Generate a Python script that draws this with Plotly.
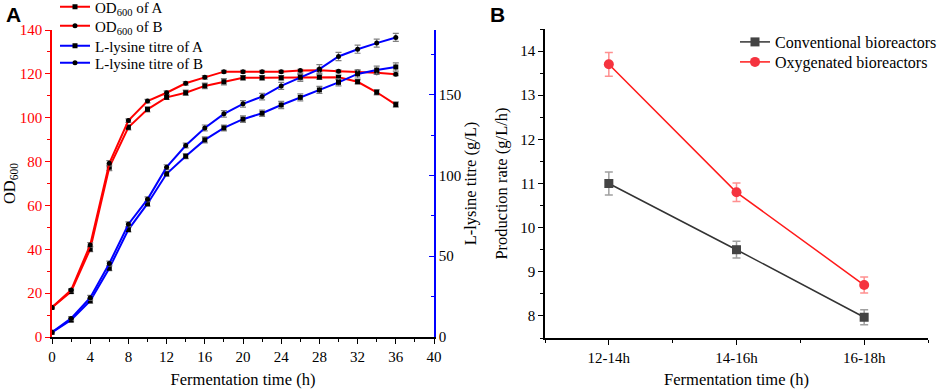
import plotly.graph_objects as go

# ---------------- data: panel A ----------------
time_h = [0, 2, 4, 6, 8, 10, 12, 14, 16, 18, 20, 22, 24, 26, 28, 30, 32, 34, 36]
od_A = [13.5, 20.7, 40.1, 77.4, 95.6, 103.8, 109.3, 111.4, 114.5, 116.4, 118.2, 118.2, 118.2, 118.5, 118.5, 118.4, 116.4, 111.6, 106.0]
od_A_err = [0.5, 0.8, 1.2, 1.5, 1.2, 1.2, 1.0, 1.2, 1.3, 1.4, 1.0, 1.0, 1.0, 1.2, 1.0, 1.0, 1.0, 1.2, 1.2]
od_B = [13.5, 21.4, 42.0, 79.2, 98.7, 107.6, 111.4, 115.7, 118.4, 121.0, 121.0, 121.0, 121.0, 121.5, 121.7, 121.2, 121.0, 120.5, 119.8]
od_B_err = [0.4, 0.7, 1.0, 1.2, 0.8, 0.8, 0.8, 0.8, 0.8, 0.6, 0.6, 0.6, 0.6, 0.6, 0.8, 0.6, 0.6, 0.6, 0.6]
titre_A = [2.9, 10.5, 22.4, 42.6, 66.5, 82.5, 101.0, 111.9, 122.0, 129.4, 134.8, 138.5, 143.6, 148.3, 152.9, 157.6, 162.8, 165.2, 167.1]
titre_A_err = [0.8, 1.2, 1.5, 1.5, 1.5, 1.5, 1.5, 1.5, 1.8, 1.8, 2.0, 2.0, 2.2, 2.2, 2.2, 2.2, 2.5, 2.5, 2.5]
titre_B = [2.9, 11.5, 24.3, 45.5, 69.8, 85.2, 105.1, 118.5, 129.4, 138.1, 144.3, 148.8, 155.4, 160.7, 165.8, 173.6, 178.1, 181.9, 185.4]
titre_B_err = [0.8, 1.2, 1.5, 1.5, 1.5, 1.5, 1.5, 1.5, 1.8, 2.0, 2.0, 2.0, 2.2, 2.5, 2.8, 2.5, 2.5, 2.5, 2.5]

# ---------------- data: panel B ----------------
periods = ["12-14h", "14-16h", "16-18h"]
conventional = [11.0, 9.5, 7.97]
conventional_err = [0.26, 0.19, 0.17]
oxygenated = [13.7, 10.8, 8.7]
oxygenated_err = [0.27, 0.21, 0.18]
period_pos = list(range(len(periods)))

W, H = 941, 389
SERIF = "Liberation Serif"
RED = "#ff0000"
BLUE = "#0000ff"

def px_x(p):
    return p / W

def px_y(p):
    return 1 - p / H

fig = go.Figure()

def add_a(y, err, name, color, symbol, yaxis, legend):
    fig.add_trace(go.Scatter(
        x=time_h, y=y, name=name, mode="lines+markers", showlegend=True,
        line=dict(color=color, width=2),
        marker=dict(symbol=symbol, size=5, color="black"),
        error_y=dict(type="data", array=err, color="#808080", thickness=1.2, width=3),
        xaxis="x", yaxis=yaxis, legend=legend,
    ))

add_a(od_A, od_A_err, "OD<sub>600</sub> of A", RED, "square", "y", "legend")
add_a(od_B, od_B_err, "OD<sub>600</sub> of B", RED, "circle", "y", "legend2")
add_a(titre_A, titre_A_err, "L-lysine titre of A", BLUE, "square", "y2", "legend3")
add_a(titre_B, titre_B_err, "L-lysine titre of B", BLUE, "circle", "y2", "legend4")

fig.add_trace(go.Scatter(
    x=period_pos, y=conventional, name="Conventional bioreactors", mode="lines+markers",
    line=dict(color="#333333", width=1.5),
    marker=dict(symbol="square", size=9, color="#444444"),
    error_y=dict(type="data", array=conventional_err, color="#a0a0a0", thickness=1.5, width=4),
    xaxis="x3", yaxis="y3", legend="legend5",
))
fig.add_trace(go.Scatter(
    x=period_pos, y=oxygenated, name="Oxygenated bioreactors", mode="lines+markers",
    line=dict(color="#ff1a1a", width=1.5),
    marker=dict(symbol="circle", size=10, color="#f5333f"),
    error_y=dict(type="data", array=oxygenated_err, color="#ff9090", thickness=1.5, width=4),
    xaxis="x3", yaxis="y3", legend="legend6",
))

tickfont = dict(family=SERIF, size=15, color="black")
titlefont = dict(family=SERIF, size=16.5, color="black")

def leg(xp, yp, size):
    return dict(
        x=px_x(xp), y=px_y(yp), xanchor="left", yanchor="middle",
        bgcolor="rgba(0,0,0,0)", borderwidth=0,
        font=dict(family=SERIF, size=size, color="black"),
    )

fig.update_layout(
    width=W, height=H,
    showlegend=True,
    margin=dict(l=0, r=0, t=0, b=0, autoexpand=False),
    paper_bgcolor="white", plot_bgcolor="white",
    font=dict(family=SERIF, size=15, color="black"),
    xaxis=dict(
        domain=[px_x(52), px_x(434)], range=[0, 40], anchor="y",
        tickvals=[0, 4, 8, 12, 16, 20, 24, 28, 32, 36, 40],
        ticks="outside", ticklen=5, tickwidth=1.2, tickcolor="black",
        minor=dict(dtick=2, ticks="outside", ticklen=3, tickcolor="black"),
        showline=True, linecolor="black", linewidth=1.5, automargin=False,
        showgrid=False, zeroline=False, tickfont=tickfont,
        title=dict(text="Fermentation time (h)", font=titlefont, standoff=13),
    ),
    yaxis=dict(
        domain=[px_y(337), px_y(30)], range=[0, 140], anchor="x",
        dtick=20, ticks="outside", ticklen=5, tickwidth=1.2, tickcolor=RED,
        minor=dict(dtick=10, ticks="outside", ticklen=3, tickcolor=RED),
        showline=True, linecolor=RED, linewidth=1.5, automargin=False,
        showgrid=False, zeroline=False,
        tickfont=dict(family=SERIF, size=15, color=RED),
        title=dict(text="OD<sub>600</sub>", font=titlefont, standoff=8),
    ),
    yaxis2=dict(
        overlaying="y", side="right", anchor="x", range=[0, 190],
        tickvals=[0, 50, 100, 150],
        ticks="inside", ticklen=5, tickwidth=1.2, tickcolor=BLUE,
        minor=dict(dtick=25, ticks="inside", ticklen=3, tickcolor=BLUE),
        showline=True, linecolor=BLUE, linewidth=1.5, automargin=False,
        showgrid=False, zeroline=False, tickfont=tickfont,
        title=dict(text="L-lysine titre (g/L)", font=titlefont, standoff=4),
    ),
    xaxis3=dict(
        domain=[px_x(545), px_x(928)], range=[-0.5, 2.5], anchor="y3",
        tickvals=period_pos, ticktext=periods,
        ticks="outside", ticklen=5, tickwidth=1.2, tickcolor="black",
        minor=dict(dtick=0.5, tick0=-0.5, ticks="outside", ticklen=3, tickcolor="black"),
        showline=True, linecolor="black", linewidth=1.5, automargin=False,
        showgrid=False, zeroline=False, tickfont=tickfont,
        title=dict(text="Fermentation time (h)", font=titlefont, standoff=12),
    ),
    yaxis3=dict(
        domain=[px_y(338), px_y(29)], range=[7.5, 14.5], anchor="x3",
        tickvals=[8, 9, 10, 11, 12, 13, 14],
        ticks="outside", ticklen=5, tickwidth=1.2, tickcolor="black",
        minor=dict(dtick=0.5, ticks="outside", ticklen=3, tickcolor="black"),
        showline=True, linecolor="black", linewidth=1.5, automargin=False,
        showgrid=False, zeroline=False, tickfont=tickfont,
        title=dict(text="Production rate (g/L/h)", font=titlefont, standoff=8),
    ),
    legend=leg(55, 7, 15),
    legend2=leg(55, 26, 15),
    legend3=leg(55, 46, 15),
    legend4=leg(55, 63, 15),
    legend5=leg(735, 42, 16),
    legend6=leg(735, 62, 16),
    annotations=[
        dict(text="<b>A</b>", x=px_x(4), y=px_y(14), xref="paper", yref="paper",
             xanchor="left", yanchor="middle", showarrow=False,
             font=dict(family="Liberation Sans", size=21, color="black")),
        dict(text="<b>B</b>", x=px_x(488), y=px_y(14), xref="paper", yref="paper",
             xanchor="left", yanchor="middle", showarrow=False,
             font=dict(family="Liberation Sans", size=21, color="black")),
    ],
)

fig.write_html("out.html", config={"displayModeBar": False},
               post_script="document.body.style.margin='0';")
